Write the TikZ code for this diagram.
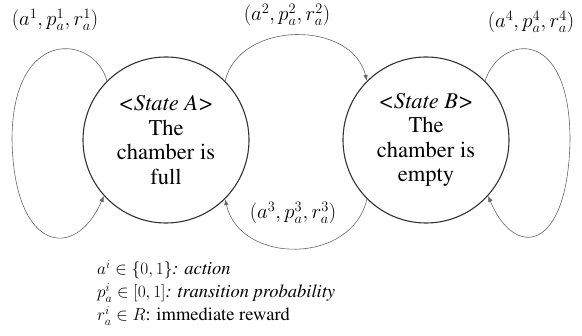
\documentclass[tikz,border=0pt]{standalone}
\usepackage{amsmath,amssymb}
\usepackage[T1]{fontenc}
\renewcommand{\rmdefault}{ptm}
\usepackage{tikz}
\usetikzlibrary{arrows.meta}
\usepackage{xcolor}

\begin{document}
\begin{tikzpicture}[
  x=1pt, y=-1pt,
  state/.style={draw=black!80, line width=1.1pt, circle, minimum size=166pt, inner sep=0pt, align=center, font=\fontsize{22.5}{24.5}\selectfont},
  trans/.style={draw=black!60, line width=0.6pt, -{Latex[length=6pt,width=4.5pt]}},
  tlabel/.style={font=\fontsize{21.5}{24}\selectfont},
]
\useasboundingbox (0,0) rectangle (582,336);

\node[state] (A) at (166,140) {\textit{<State A>}\\The\\chamber is\\full};
\node[state] (B) at (426,140) {\textit{<State B>}\\The\\chamber is\\empty};

\draw[trans] (A.135) .. controls (95,35) and (12,25) .. (12,140) .. controls (14,252) and (75,262) .. (A.222);
\draw[trans] (A.45) .. controls (240,20) and (352,20) .. (B.135);
\draw[trans] (B.225) .. controls (352,265) and (240,265) .. (A.315);
\draw[trans] (B.45) .. controls (500,35) and (570,25) .. (570,140) .. controls (568,252) and (515,260) .. (B.318);

\node[tlabel] (l1) at (55,20) {$(a^1,p_a^1,r_a^1)$};
\node[tlabel] (l2) at (287,15) {$(a^2,p_a^2,r_a^2)$};
\node[tlabel] (l3) at (293,213) {$(a^3,p_a^3,r_a^3)$};
\node[tlabel] (l4) at (531,22) {$(a^4,p_a^4,r_a^4)$};

\node[anchor=west, align=left, inner sep=0pt, font=\fontsize{18.5}{23}\selectfont] (key) at (97,293)
  {$a^i \in \{0,1\}$\textit{: action}\\
   $p_a^i \in [0,1]$\textit{: transition probability}\\
   $r_a^i \in R$: immediate reward};
\end{tikzpicture}
\end{document}
